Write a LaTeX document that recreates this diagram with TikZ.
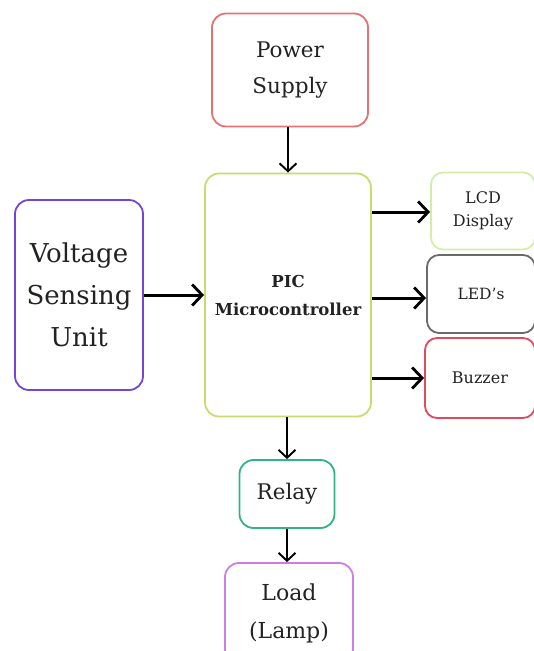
\documentclass[tikz,border=0pt]{standalone}
\usepackage{fontspec}
\setmainfont{DejaVu Serif}
\usetikzlibrary{arrows.meta}
\definecolor{cpower}{HTML}{E57373}
\definecolor{cpic}{HTML}{C6DC6E}
\definecolor{cvolt}{HTML}{7446D6}
\definecolor{clcd}{HTML}{D3EDA8}
\definecolor{cled}{HTML}{6A6A6A}
\definecolor{cbuzz}{HTML}{E04A5E}
\definecolor{crelay}{HTML}{33B383}
\definecolor{cload}{HTML}{CC7FE0}
\definecolor{ctext}{HTML}{222222}
\begin{document}
\begin{tikzpicture}[x=1pt,y=-1pt,
  blk/.style={draw, line width=1.8pt, rounded corners=14pt, align=center, text=ctext, inner sep=0pt},
  arr/.style={draw=black, line width=3pt, -{Straight Barb[length=10pt,width=21pt,line width=2.8pt]}},
  varr/.style={draw=black, line width=1.9pt, -{Straight Barb[length=8pt,width=17pt,line width=1.9pt]}}]
\useasboundingbox (0,0) rectangle (534,651);
\node[blk, draw=cpower, minimum width=156pt, minimum height=113pt, font=\fontsize{21.5}{36}\selectfont] (ps) at (290,70) {Power\\Supply};
\node[blk, draw=cpic, minimum width=166pt, minimum height=243pt, font=\bfseries\fontsize{16.5}{28}\selectfont] (pic) at (288,295) {PIC\\Microcontroller};
\node[blk, draw=cvolt, minimum width=128pt, minimum height=190pt, font=\fontsize{26}{42}\selectfont] (vsu) at (79,295) {Voltage\\Sensing\\Unit};
\node[blk, draw=clcd, minimum width=104pt, minimum height=77pt, rounded corners=12pt, font=\fontsize{16}{23}\selectfont] (lcd) at (483,211) {LCD\\Display};
\node[blk, draw=cled, minimum width=108pt, minimum height=78pt, rounded corners=12pt, font=\fontsize{15.5}{23}\selectfont] (led) at (481,294) {LED's};
\node[blk, draw=cbuzz, minimum width=110pt, minimum height=80pt, rounded corners=12pt, font=\fontsize{16}{23}\selectfont] (buz) at (480,378) {Buzzer};
\node[blk, draw=crelay, minimum width=95pt, minimum height=68pt, font=\fontsize{21.5}{30}\selectfont] (rel) at (287,494) {Relay};
\node[blk, draw=cload, minimum width=128pt, minimum height=100pt, font=\fontsize{22}{38}\selectfont] (load) at (289,613) {Load\\(Lamp)};
\draw[varr] (ps.south -| 288,0) -- (pic.north -| 288,0);
\draw[arr] (vsu.east) -- (vsu.east -| pic.west);
\draw[arr] (pic.east |- 0,212) -- (lcd.west |- 0,212);
\draw[arr] (pic.east |- 0,298) -- (led.west |- 0,298);
\draw[arr] (pic.east |- 0,378) -- (buz.west |- 0,378);
\draw[varr] (pic.south -| 287,0) -- (rel.north -| 287,0);
\draw[varr] (rel.south -| 287,0) -- (load.north -| 287,0);
\end{tikzpicture}
\end{document}
